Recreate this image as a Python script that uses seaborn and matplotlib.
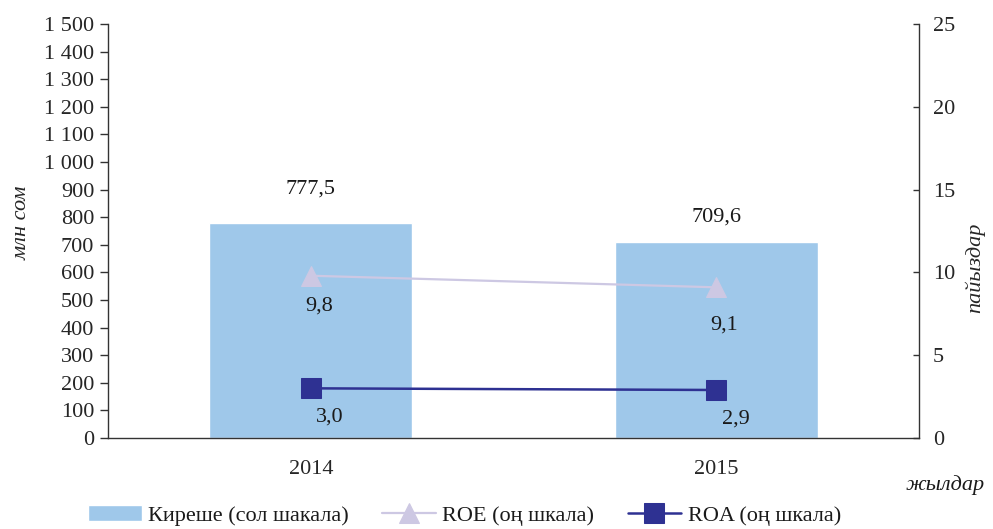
import matplotlib
matplotlib.use("Agg")
import matplotlib.pyplot as plt
import matplotlib.ticker as mticker
import numpy as np
import seaborn as sns

# ---------------------------------------------------------
# Data
# ---------------------------------------------------------
years = ["2014", "2015"]
revenue = [777.5, 709.6]      # млн сом, left axis
roe = [9.8, 9.1]              # %, right axis
roa = [3.0, 2.9]              # %, right axis

revenue_labels = ["777,5", "709,6"]
roe_labels = ["9,8", "9,1"]
roa_labels = ["3,0", "2,9"]

BAR_COLOR = "#9fc8ea"
ROE_COLOR = "#cdc8e3"
ROA_COLOR = "#2e3192"
AXIS_COLOR = "#333333"

sns.set_theme(style="white")
plt.rcParams["font.family"] = ["Liberation Serif", "DejaVu Serif"]
plt.rcParams["text.color"] = "#1a1a1a"

fig = plt.figure(figsize=(9.93, 5.29), dpi=100)
ax = fig.add_axes([0.1088, 0.172, 0.8167, 0.7826])

# ---------------------------------------------------------
# Bars (left scale)
# ---------------------------------------------------------
sns.barplot(x=years, y=revenue, ax=ax, color=BAR_COLOR, width=0.5,
            saturation=1, label="Киреше (сол шакала)")

ax.set_xlim(-0.5, 1.5)
ax.set_ylim(0, 1500)
ax.set_yticks(np.arange(0, 1501, 100))
ax.yaxis.set_major_formatter(
    mticker.FuncFormatter(lambda v, p: f"{int(v):,}".replace(",", " ")))
ax.tick_params(axis="y", direction="out", length=6, width=1,
               color=AXIS_COLOR, labelsize=16, pad=4)
ax.tick_params(axis="x", length=0, labelsize=16, pad=16)
ax.set_xlabel("")
ax.set_ylabel("млн сом", fontsize=16, style="italic")
ax.yaxis.set_label_coords(-0.094, 0.52)

for spine in ["top", "right"]:
    ax.spines[spine].set_visible(False)
for spine in ["left", "bottom"]:
    ax.spines[spine].set_color(AXIS_COLOR)
    ax.spines[spine].set_linewidth(1)

# label offsets (points) above bars
bar_offsets = [18, 11]
for i, (val, txt) in enumerate(zip(revenue, revenue_labels)):
    ax.annotate(txt, (i, val), xytext=(0, bar_offsets[i]),
                textcoords="offset points", ha="center", va="bottom",
                fontsize=16)

# ---------------------------------------------------------
# Lines (right scale)
# ---------------------------------------------------------
ax2 = ax.twinx()
xpos = np.arange(len(years))
sns.lineplot(x=xpos, y=roe, ax=ax2, color=ROE_COLOR, linewidth=1.6,
             marker="^", markersize=14, markeredgecolor=ROE_COLOR,
             label="ROE (оң шкала)")
sns.lineplot(x=xpos, y=roa, ax=ax2, color=ROA_COLOR, linewidth=1.8,
             marker="s", markersize=14, markeredgecolor=ROA_COLOR,
             label="ROA (оң шкала)")

ax2.set_ylim(0, 25)
ax2.set_yticks(np.arange(0, 26, 5))
ax2.set_xlim(-0.5, 1.5)
ax2.tick_params(axis="y", direction="in", length=4, width=1,
                color=AXIS_COLOR, labelsize=16, pad=10)
ax2.set_ylabel("пайыздар", fontsize=16, style="italic", rotation=90)
ax2.yaxis.set_label_coords(1.057, 0.41)
for spine in ["top", "left", "bottom"]:
    ax2.spines[spine].set_visible(False)
ax2.spines["right"].set_color(AXIS_COLOR)
ax2.spines["right"].set_linewidth(1)

roe_offsets = [-22, -27]
for i, (val, txt) in enumerate(zip(roe, roe_labels)):
    ax2.annotate(txt, (i, val), xytext=(6, roe_offsets[i]),
                 textcoords="offset points", ha="center", va="center",
                 fontsize=16)
for i, (val, txt) in enumerate(zip(roa, roa_labels)):
    ax2.annotate(txt, (i, val), xytext=(14, -21), textcoords="offset points",
                 ha="center", va="center", fontsize=16)

fig.text(0.952, 0.083, "жылдар", fontsize=16, style="italic",
         ha="center", va="center")

# ---------------------------------------------------------
# Legend
# ---------------------------------------------------------
h1, l1 = ax.get_legend_handles_labels()
h2, l2 = ax2.get_legend_handles_labels()
ax.get_legend().remove()
ax2.get_legend().remove()
fig.legend(h1 + h2, l1 + l2, loc="center", ncol=3,
           bbox_to_anchor=(0.468, 0.025), frameon=False, fontsize=16,
           handlelength=2.4, handletextpad=0.3, columnspacing=1.5)

fig.savefig("out.png", dpi=100)
plt.close(fig)
